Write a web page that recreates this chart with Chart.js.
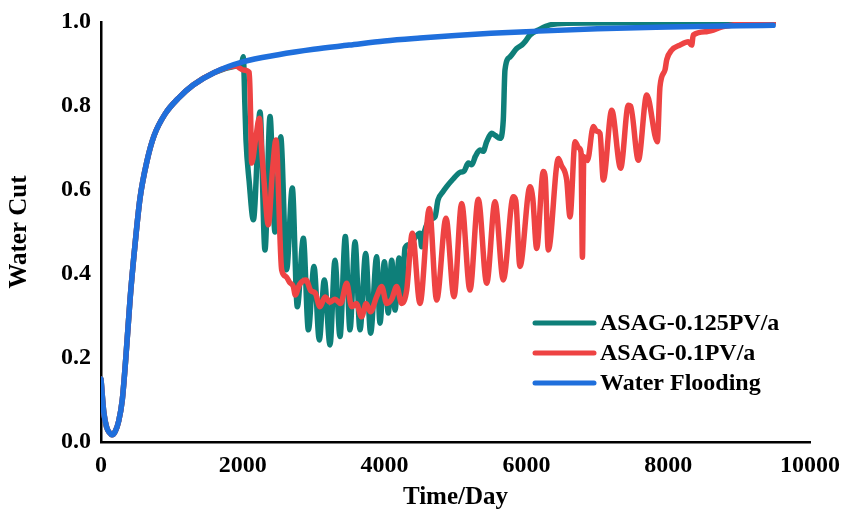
<!DOCTYPE html>
<html>
<head>
<meta charset="utf-8">
<script src="https://cdn.jsdelivr.net/npm/chart.js@4.4.0/dist/chart.umd.min.js"></script>
<style>
  html, body { margin: 0; padding: 0; background: #fff; }
  #wrap { width: 841px; height: 516px; }
</style>
</head>
<body>
<div id="wrap"><canvas id="cutChart" width="841" height="516"></canvas></div>
<script>
// water flooding baseline
const wfDays = [0, 40, 80, 120, 155, 200, 250, 300, 350, 410, 480, 550, 650, 750, 900, 1100, 1300, 1600, 2000,
  2500, 3000, 3500, 4000, 4500, 5000, 5500, 6000, 7000, 8000, 9000, 9480];
const wfCut = [0.15, 0.07, 0.035, 0.022, 0.017, 0.025, 0.05, 0.10, 0.20, 0.34, 0.47, 0.58, 0.67, 0.73, 0.78, 0.82, 0.85, 0.88, 0.905,
  0.922, 0.935, 0.945, 0.955, 0.962, 0.968, 0.973, 0.977, 0.984, 0.988, 0.991, 0.992];

// ASAG 0.125 PV/a
const asag125Days = [0, 40, 80, 120, 155, 200, 250, 300, 350, 410, 480, 550, 650, 750, 900, 1100, 1300, 1600, 1900,
  1980, 2007, 2030, 2045, 2090, 2149, 2243, 2313, 2384, 2454, 2534, 2618, 2698, 2769, 2854, 2925, 3004, 3079, 3150,
  3230, 3300, 3371, 3446, 3512, 3583, 3653, 3733, 3803, 3888, 3935, 3997, 4052, 4100, 4147, 4203, 4241, 4288, 4350,
  4405, 4499, 4523, 4560, 4640, 4711, 4753, 4820, 4875, 4960, 5063, 5120, 5181, 5230, 5280, 5345, 5390, 5440, 5510,
  5560, 5627, 5674, 5698, 5769, 5863, 5934, 5980, 6051, 6192, 6333, 6568, 7500, 8500, 9480];
const asag125Cut = [0.15, 0.07, 0.035, 0.022, 0.017, 0.025, 0.05, 0.10, 0.20, 0.34, 0.47, 0.58, 0.67, 0.73, 0.78, 0.82, 0.85, 0.88, 0.895,
  0.90, 0.917, 0.80, 0.72, 0.62, 0.529, 0.786, 0.457, 0.775, 0.50, 0.727, 0.41, 0.605, 0.322, 0.485, 0.267, 0.418, 0.243, 0.386,
  0.231, 0.433, 0.251, 0.489, 0.267, 0.477, 0.267, 0.449, 0.259, 0.441, 0.283, 0.429, 0.307, 0.433, 0.314, 0.438, 0.338, 0.462, 0.47,
  0.481, 0.497, 0.465, 0.50, 0.529, 0.536, 0.576, 0.595, 0.608, 0.625, 0.642, 0.645, 0.664, 0.66, 0.68, 0.695, 0.692, 0.715, 0.735,
  0.73, 0.723, 0.767, 0.886, 0.917, 0.937, 0.945, 0.953, 0.969, 0.983, 0.993, 0.997, 0.998, 0.998, 0.998];

// ASAG 0.1 PV/a
const asag1Days = [0, 40, 80, 120, 155, 200, 250, 300, 350, 410, 480, 550, 650, 750, 900, 1100, 1300, 1600, 1900,
  2007, 2092, 2110, 2125, 2180, 2233, 2266, 2300, 2360, 2420, 2468, 2548, 2609, 2660, 2713, 2740, 2800, 2891, 2960,
  3020, 3089, 3160, 3230, 3300, 3380, 3465, 3536, 3600, 3676, 3740, 3800, 3888, 3959, 4029, 4100, 4170, 4241, 4312,
  4391, 4499, 4631, 4734, 4866, 4979, 5087, 5204, 5321, 5440, 5557, 5674, 5815, 5850, 5909, 6051, 6090, 6145, 6238,
  6265, 6309, 6451, 6490, 6568, 6615, 6686, 6740, 6770, 6790, 6810, 6860, 6944, 6990, 7038, 7085, 7203, 7329, 7438,
  7470, 7579, 7697, 7847, 7884, 7955, 7979, 8049, 8166, 8284, 8331, 8354, 8543, 8778, 9154, 9480];
const asag1Cut = [0.15, 0.07, 0.035, 0.022, 0.017, 0.025, 0.05, 0.10, 0.20, 0.34, 0.47, 0.58, 0.67, 0.73, 0.78, 0.82, 0.85, 0.88, 0.895,
  0.886, 0.88, 0.78, 0.664, 0.72, 0.771, 0.695, 0.62, 0.517, 0.65, 0.719, 0.41, 0.394, 0.38, 0.37, 0.35, 0.375, 0.386, 0.36,
  0.355, 0.322, 0.345, 0.333, 0.34, 0.33, 0.378, 0.322, 0.33, 0.298, 0.33, 0.31, 0.346, 0.37, 0.33, 0.34, 0.37, 0.33, 0.362,
  0.497, 0.33, 0.556, 0.338, 0.533, 0.346, 0.568, 0.362, 0.578, 0.378, 0.572, 0.386, 0.584, 0.575, 0.418, 0.608, 0.58, 0.461, 0.644,
  0.63, 0.457, 0.675, 0.66, 0.624, 0.536, 0.715, 0.70, 0.69, 0.44, 0.68, 0.67, 0.751, 0.74, 0.735, 0.624, 0.79, 0.652, 0.802,
  0.80, 0.671, 0.826, 0.715, 0.846, 0.886, 0.91, 0.933, 0.945, 0.953, 0.945, 0.969, 0.977, 0.989, 0.997, 0.998];

const xTicks = [0, 2000, 4000, 6000, 8000, 10000];
const yTicks = [0, 0.2, 0.4, 0.6, 0.8, 1.0];

const toPoints = (days, cut) => days.map((d, i) => ({ x: d, y: cut[i] }));

const serif = 'Liberation Serif, "Times New Roman", serif';

// legend drawn inside the plot, lower right
const insetLegend = {
  id: 'insetLegend',
  afterDraw(chart) {
    const ctx = chart.ctx;
    const area = chart.chartArea;
    const x0 = area.right - 275;
    let y = area.bottom - 119;
    ctx.save();
    ctx.font = 'bold 24px ' + serif;
    ctx.textBaseline = 'middle';
    ctx.lineCap = 'round';
    chart.data.datasets.forEach(ds => {
      ctx.strokeStyle = ds.borderColor;
      ctx.lineWidth = 5;
      ctx.beginPath();
      ctx.moveTo(x0, y);
      ctx.lineTo(x0 + 59, y);
      ctx.stroke();
      ctx.fillStyle = '#000';
      ctx.fillText(ds.label, x0 + 65, y + 1);
      y += 30;
    });
    ctx.restore();
  }
};

const ctx = document.getElementById('cutChart').getContext('2d');

new Chart(ctx, {
  type: 'line',
  data: {
    datasets: [
      {
        label: 'ASAG-0.125PV/a',
        data: toPoints(asag125Days, asag125Cut),
        borderColor: '#0e7f79',
        order: 3
      },
      {
        label: 'ASAG-0.1PV/a',
        data: toPoints(asag1Days, asag1Cut),
        borderColor: '#ee4343',
        order: 2
      },
      {
        label: 'Water Flooding',
        data: toPoints(wfDays, wfCut),
        borderColor: '#1f6fdc',
        order: 1
      }
    ]
  },
  options: {
    responsive: false,
    animation: false,
    datasets: {
      line: {
        borderWidth: 5.5,
        pointRadius: 0,
        fill: false,
        cubicInterpolationMode: 'monotone',
        borderJoinStyle: 'round',
        borderCapStyle: 'round'
      }
    },
    layout: { padding: { top: 22, right: 31, left: 0, bottom: 0 } },
    plugins: {
      legend: { display: false },
      tooltip: { enabled: false }
    },
    scales: {
      x: {
        type: 'linear',
        min: 0,
        max: 10000,
        afterBuildTicks: s => { s.ticks = xTicks.map(v => ({ value: v })); },
        afterFit: s => { s.height = 74; },
        grid: { display: false },
        border: { display: true, color: '#000', width: 2.5 },
        ticks: {
          color: '#000',
          font: { family: serif, size: 24, weight: 'bold' },
          padding: 1,
          maxRotation: 0,
          callback: v => String(v)
        },
        title: {
          display: true,
          text: 'Time/Day',
          color: '#000',
          font: { family: serif, size: 25, weight: 'bold' },
          padding: { top: 0, bottom: 3 }
        }
      },
      y: {
        min: 0,
        max: 1,
        afterBuildTicks: s => { s.ticks = yTicks.map(v => ({ value: v })); },
        afterFit: s => { s.width = 101; },
        grid: { display: false },
        border: { display: true, color: '#000', width: 2.5 },
        ticks: {
          color: '#000',
          font: { family: serif, size: 24, weight: 'bold' },
          padding: 2,
          callback: v => v.toFixed(1)
        },
        title: {
          display: true,
          text: 'Water Cut',
          color: '#000',
          font: { family: serif, size: 25, weight: 'bold' },
          padding: { top: 5, bottom: 0 }
        }
      }
    }
  },
  plugins: [insetLegend]
});
</script>
</body>
</html>
